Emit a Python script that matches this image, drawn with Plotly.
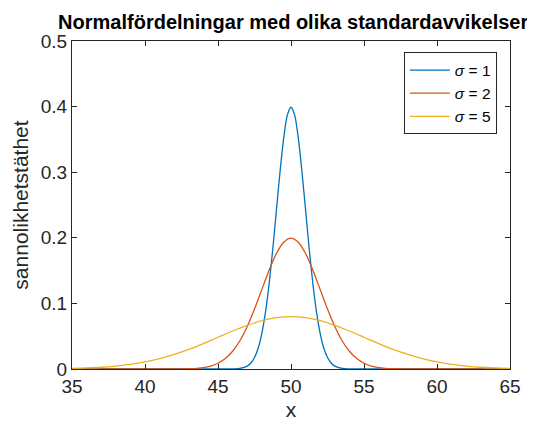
import plotly.graph_objects as go

# sigma = 1
x1 = [35, 45, 46, 46.5, 47, 47.25, 47.5, 47.75, 48, 48.25, 48.5, 48.75, 49, 49.25, 49.5, 49.75, 50,
      50.25, 50.5, 50.75, 51, 51.25, 51.5, 51.75, 52, 52.25, 52.5, 52.75, 53, 53.5, 54, 55, 65]
y1 = [0, 0, 0.0001, 0.0009, 0.0044, 0.0091, 0.0175, 0.0317, 0.054, 0.0863, 0.1295, 0.1826, 0.242,
      0.301, 0.352, 0.387, 0.399, 0.387, 0.352, 0.301, 0.242, 0.1826, 0.1295, 0.0863, 0.054,
      0.0317, 0.0175, 0.0091, 0.0044, 0.0009, 0.0001, 0, 0]

# sigma = 2
x2 = [35, 41, 42, 43, 44, 44.5, 45, 45.5, 46, 46.5, 47, 47.5, 48, 48.5, 49, 49.5, 50,
      50.5, 51, 51.5, 52, 52.5, 53, 53.5, 54, 54.5, 55, 55.5, 56, 57, 58, 59, 65]
y2 = [0, 0, 0.0001, 0.0004, 0.0022, 0.0045, 0.0088, 0.0159, 0.027, 0.0431, 0.0648, 0.0913,
      0.121, 0.1506, 0.176, 0.1933, 0.1995, 0.1933, 0.176, 0.1506, 0.121, 0.0913, 0.0648,
      0.0431, 0.027, 0.0159, 0.0088, 0.0045, 0.0022, 0.0004, 0.0001, 0, 0]

# sigma = 5
x5 = [35, 36, 37, 38, 39, 40, 41, 42, 43, 44, 45, 46, 47, 48, 49, 50,
      51, 52, 53, 54, 55, 56, 57, 58, 59, 60, 61, 62, 63, 64, 65]
y5 = [0.0009, 0.0016, 0.0027, 0.0045, 0.0071, 0.0108, 0.0158, 0.0222, 0.0299, 0.0388, 0.0484,
      0.0579, 0.0666, 0.0737, 0.0782, 0.0798, 0.0782, 0.0737, 0.0666, 0.0579, 0.0484, 0.0388,
      0.0299, 0.0222, 0.0158, 0.0108, 0.0071, 0.0045, 0.0027, 0.0016, 0.0009]

x_ticks = [35, 40, 45, 50, 55, 60, 65]
y_ticks = [0, 0.1, 0.2, 0.3, 0.4, 0.5]
y_ticklabels = ["0", "0.1", "0.2", "0.3", "0.4", "0.5"]

names = ["<i>σ</i> = 1", "<i>σ</i> = 2", "<i>σ</i> = 5"]
colors = ["#0072BD", "#D95319", "#EDB120"]

fig = go.Figure()
for xs, ys, nm, c in zip([x1, x2, x5], [y1, y2, y5], names, colors):
    fig.add_trace(go.Scatter(x=xs, y=ys, mode="lines", name=nm,
                             line=dict(color=c, width=1.3, shape="spline", smoothing=0.8)))

font = "Liberation Sans, Arial, sans-serif"
axis_common = dict(showline=True, linecolor="#262626", linewidth=1, mirror="allticks",
                   ticks="inside", ticklen=5, tickcolor="#262626", showgrid=False,
                   zeroline=False, tickfont=dict(size=19, color="#262626", family=font))

fig.update_layout(
    width=535, height=421,
    margin=dict(l=64, r=33, t=33, b=58),
    paper_bgcolor="white", plot_bgcolor="white",
    title=dict(text="<b>Normalfördelningar med olika standardavvikelser</b>",
               x=0.505, xref="paper", xanchor="center", y=1 - 14 / 421, yref="container",
               yanchor="middle",
               font=dict(size=20, color="black", family=font)),
    xaxis=dict(range=[35, 65], tickvals=x_ticks,
               title=dict(text="x", font=dict(size=21, color="#262626", family=font), standoff=6),
               **axis_common),
    yaxis=dict(range=[0, 0.5], tickvals=y_ticks, ticktext=y_ticklabels,
               title=dict(text="sannolikhetstäthet", font=dict(size=21, color="#262626", family=font), standoff=6),
               **axis_common),
    legend=dict(x=0.97, y=0.965, xanchor="right", yanchor="top", bgcolor="white",
                bordercolor="#262626", borderwidth=1, itemwidth=40,
                font=dict(size=15.5, color="black", family=font), tracegroupgap=0),
    showlegend=True,
)

fig.write_html("out.html")
